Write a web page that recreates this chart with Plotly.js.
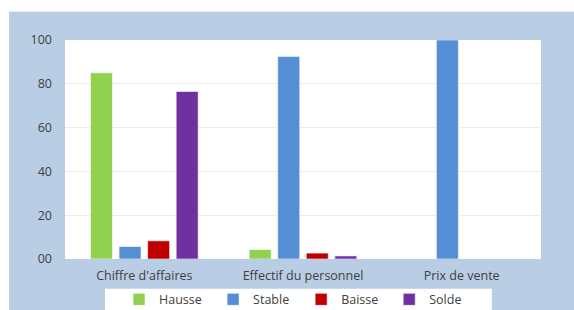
<!DOCTYPE html>
<html>
<head>
<meta charset="utf-8">
<script src="https://cdn.plot.ly/plotly-3.0.1.min.js"></script>
<style>html,body{margin:0;padding:0;background:#fff;}#chart{width:574px;height:310px;}</style>
</head>
<body>
<div id="chart"></div>
<script>
var categories = ["Chiffre d'affaires", "Effectif du personnel", "Prix de vente"];
var hausse = [85, 4.3, null];
var stable = [5.7, 92.5, 100];
var baisse = [8.3, 2.7, null];
var solde = [76.5, 1.4, null];
var yTickVals = [0, 20, 40, 60, 80, 100];
var yTickText = ["00", "20", "40", "60", "80", "100"];

var seriesNames = ["Hausse", "Stable", "Baisse", "Solde"];
var seriesValues = [hausse, stable, baisse, solde];
var seriesColors = ["#92D050", "#558ED5", "#C00000", "#7030A0"];
var legendIds = ["legend", "legend2", "legend3", "legend4"];
var legendX = [0.1135, 0.3111, 0.4961, 0.6811];

var traces = seriesNames.map(function (n, i) {
  return {
    type: 'bar', name: n, x: categories, y: seriesValues[i], legend: legendIds[i],
    marker: {color: seriesColors[i], line: {color: 'rgba(255,255,255,0.55)', width: 1}},
    hoverinfo: 'none'
  };
});

var font = {family: "'Open Sans', 'Liberation Sans', sans-serif", size: 12.5, color: '#404040'};

var layout = {
  width: 574, height: 310,
  margin: {l: 65, r: 33.3, t: 40, b: 50.7, autoexpand: false},
  paper_bgcolor: '#ffffff', plot_bgcolor: 'rgba(0,0,0,0)',
  barmode: 'group', bargap: 0.28, bargroupgap: 0.23,
  font: font,
  showlegend: true,
  xaxis: {type: 'category', showgrid: false, zeroline: false, showline: false, ticks: '',
          ticklabelstandoff: 7, tickfont: font, fixedrange: true},
  yaxis: {range: [0, 100], tickvals: yTickVals, ticktext: yTickText, showgrid: true,
          gridcolor: '#EDEDED', gridwidth: 1, zeroline: false, showline: false, ticks: '',
          ticklabelstandoff: 12, tickfont: font, fixedrange: true},
  shapes: [
    {type: 'rect', xref: 'paper', yref: 'paper', x0: -0.1177, x1: 1.1, y0: -0.3, y1: 1.1277,
     fillcolor: '#B9CDE5', line: {width: 0}, layer: 'below'},
    {type: 'line', xref: 'paper', yref: 'paper', x0: -0.1177, x1: 1.1, y0: 1.1277, y1: 1.1277,
     line: {color: '#D0D0D0', width: 1}, layer: 'below'},
    {type: 'rect', xref: 'paper', yref: 'paper', x0: 0, x1: 1, y0: 0, y1: 1,
     fillcolor: '#FFFFFF', line: {width: 0}, layer: 'below'},
    {type: 'rect', xref: 'paper', yref: 'paper', x0: 0.0841, x1: 0.8968, y0: -0.3, y1: -0.1354,
     fillcolor: '#FFFFFF', line: {width: 0}, layer: 'below'}
  ]
};
legendIds.forEach(function (id, i) {
  layout[id] = {orientation: 'h', x: legendX[i], xanchor: 'left', y: -0.186, yanchor: 'middle',
                bgcolor: 'rgba(0,0,0,0)', font: font};
});

Plotly.newPlot('chart', traces, layout, {displayModeBar: false, staticPlot: true});
</script>
</body>
</html>
